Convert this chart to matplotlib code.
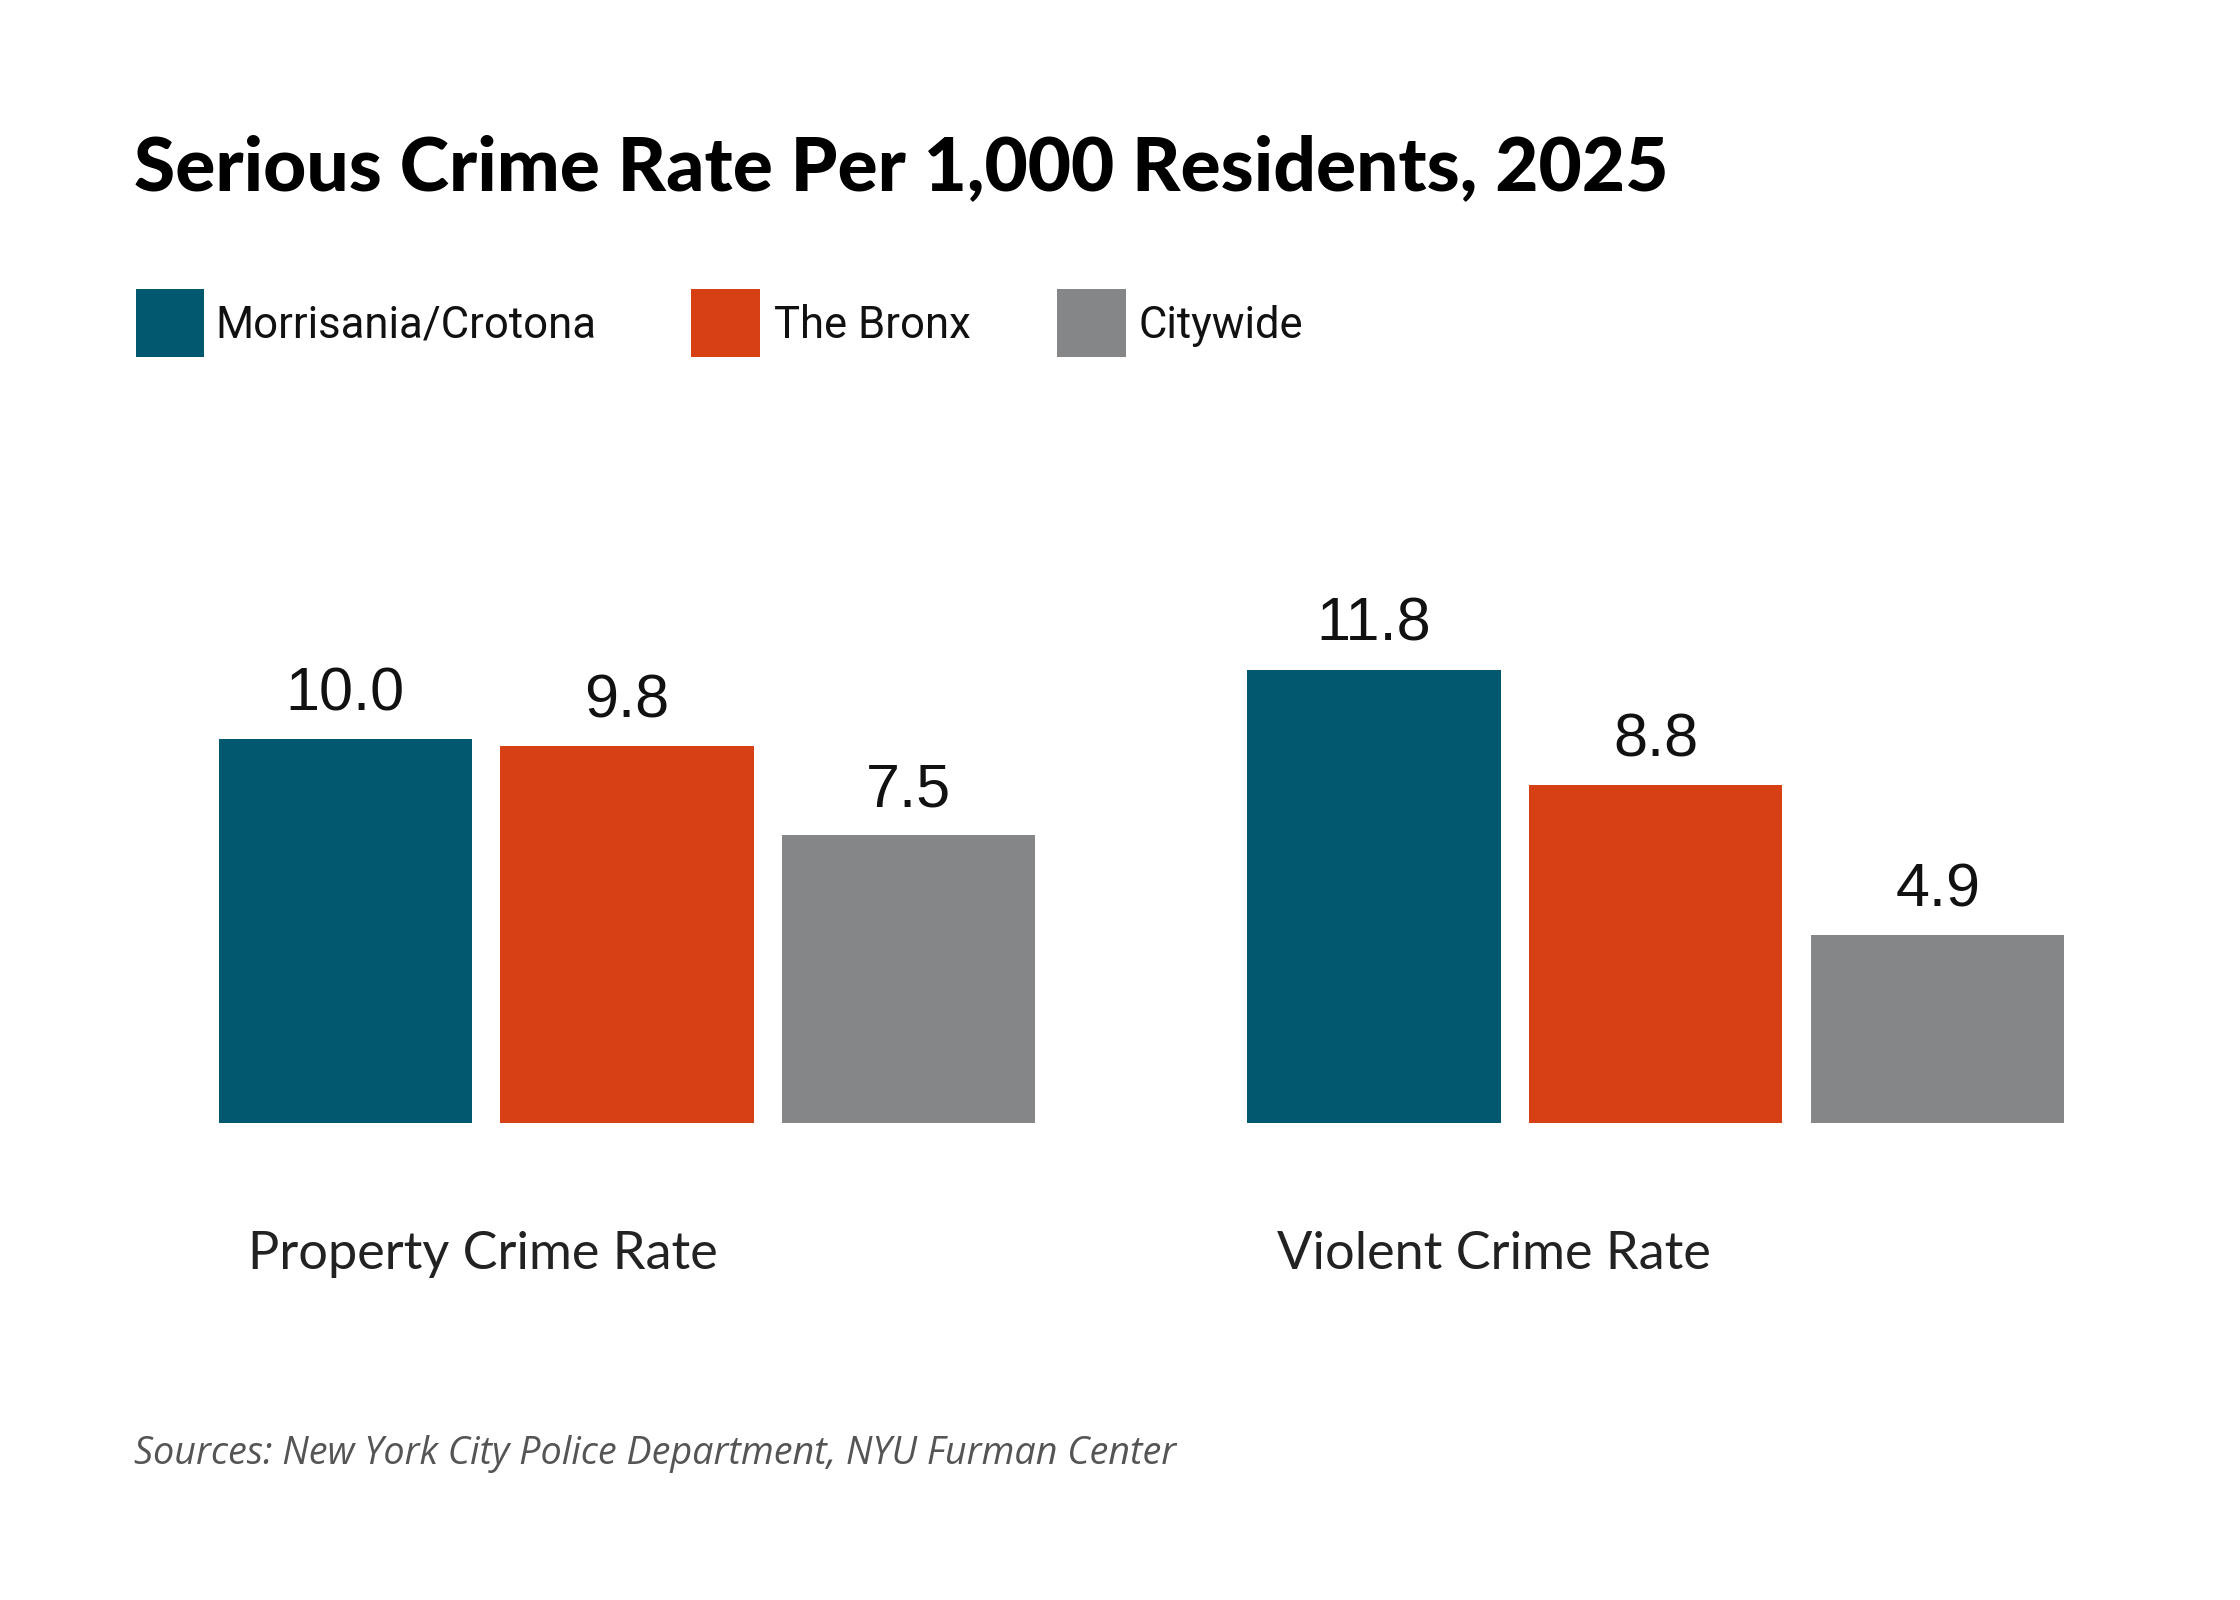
import matplotlib
matplotlib.use("Agg")
import matplotlib.pyplot as plt
from matplotlib.patches import Rectangle
import numpy as np

categories = ["Property Crime Rate", "Violent Crime Rate"]
series = ["Morrisania/Crotona", "The Bronx", "Citywide"]
morrisania = [10.0, 11.8]
bronx = [9.8, 8.8]
citywide = [7.5, 4.9]
colors = ["#02596F", "#D64014", "#858688"]
title = "Serious Crime Rate Per 1,000 Residents, 2025"
source = "Sources: New York City Police Department, NYU Furman Center"

W, H = 2240, 1600
DPI = 200
fig = plt.figure(figsize=(W / DPI, H / DPI), dpi=DPI)
fig.patch.set_facecolor("white")

def fx(px):
    return px / W

def fy(py):
    return 1 - py / H

# axes placement (pixels)
base_y = 1123
ax_left, ax_right = 218.6, 2064.3
ppu = 38.43
ymax = 12.0
ax = fig.add_axes([fx(ax_left), fy(base_y), fx(ax_right - ax_left), ymax * ppu / H])
pitch = 0.274
width = 0.246
x = np.arange(len(categories))
vals = [morrisania, bronx, citywide]
for i, (v, c) in enumerate(zip(vals, colors)):
    bars = ax.bar(x + (i - 1) * pitch, v, width=width, color=c, linewidth=0)
    for b, val in zip(bars, v):
        ax.annotate(f"{val:.1f}", xy=(b.get_x() + b.get_width() / 2, b.get_height()),
                    xytext=(0, 10.3), textcoords="offset points",
                    ha="center", va="baseline", fontsize=22,
                    family="Liberation Sans", color="#111111")
ax.set_xlim(-pitch - width / 2, 1 + pitch + width / 2)
ax.set_ylim(0, ymax)
ax.axis("off")

for xi, cat in zip(x, categories):
    ax.annotate(cat, xy=(xi - pitch - width / 2 + 0.029, 0), xytext=(0, -47.3),
                textcoords="offset points", ha="left", va="center",
                fontsize=18.8, family="Lato", color="#222222")

# title
fig.text(fx(134.3), fy(190), title, ha="left", va="baseline", fontsize=26.9,
         family="Lato", weight="black", color="#000000")

# legend
patch_x = [135.7, 691.4, 1057]
text_x = [215.7, 774.3, 1138.6]
for px, tx, lab, c in zip(patch_x, text_x, series, colors):
    fig.patches.append(Rectangle((fx(px), fy(357.1)), fx(68.5), 68.5 / H,
                                 transform=fig.transFigure, color=c, linewidth=0))
    fig.text(fx(tx), fy(326), lab, ha="left", va="center", fontsize=15.7,
             family="Roboto", color="#111111")

# source
fig.text(fx(134), fy(1454), source, ha="left", va="center", fontsize=13.6,
         family="Open Sans", style="italic", color="#555555")

fig.savefig("out.png", dpi=DPI, facecolor="white")
